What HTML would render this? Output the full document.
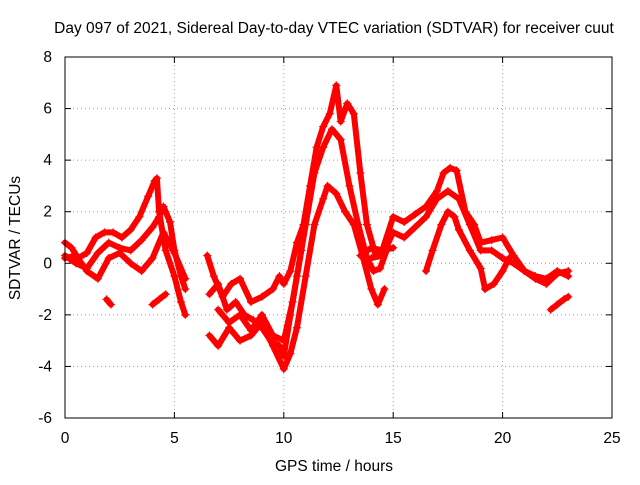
<!DOCTYPE html>
<html><head><meta charset="utf-8"><style>
body{margin:0;background:#fff;}
svg text{font-family:"Liberation Sans",sans-serif;font-size:15.5px;fill:#000;}
</style></head><body>
<svg id="chart" width="640" height="480" xmlns="http://www.w3.org/2000/svg">
<text x="334" y="33" text-anchor="middle">Day 097 of 2021, Sidereal Day-to-day VTEC variation (SDTVAR) for receiver cuut</text>
<text x="334" y="471" text-anchor="middle">GPS time / hours</text>
<text transform="translate(20,238) rotate(-90)" text-anchor="middle">SDTVAR / TECUs</text>
<g id="grid"></g><g id="ticks"></g><g id="marks"></g>
<rect x="65" y="57" width="547" height="361" fill="none" stroke="#000" stroke-width="1"/>
</svg>
<script>
const xTicks=[0,5,10,15,20,25];
const yTicks=[-6,-4,-2,0,2,4,6,8];
const t1x=[0,0.3,0.6,1,1.4,1.8,2.2,2.6,3,3.4,3.8,4.1,4.2,4.3,4.6,5,5.3,5.5];
const t1y=[0.8,0.6,0.2,0.4,1.0,1.2,1.2,1.0,1.3,1.8,2.6,3.2,3.3,2.0,0.5,-0.5,-1.5,-2.0];
const t2x=[0,0.5,1,1.5,2,2.5,3,3.5,4,4.3,4.5,4.8,5,5.3,5.5];
const t2y=[0.3,0,-0.2,0.4,0.8,0.6,0.5,0.9,1.4,1.8,2.2,1.6,0.5,-0.5,-1.0];
const t3x=[0,0.5,1,1.5,2,2.5,3,3.5,4,4.5,5,5.5];
const t3y=[0.2,0.3,-0.3,-0.6,0.2,0.4,0,-0.3,0.2,1.2,0.4,-0.6];
const t4x=[4,4.3,4.6];
const t4y=[-1.6,-1.4,-1.2];
const t5x=[1.9,2.1];
const t5y=[-1.4,-1.6];
const t6x=[6.5,6.8,7.2,7.6,8,8.5,9,9.5,9.8,10,10.3,10.6,10.9,11.2,11.5,11.8,12.1,12.4,12.6,12.9,13.2,13.5,13.8,14.2,14.6];
const t6y=[0.3,-0.5,-1.3,-0.8,-0.6,-1.5,-1.3,-1,-0.5,-0.8,-0.3,0.8,1.5,3.0,4.5,5.3,5.8,6.9,5.5,6.2,5.8,3.5,1.5,0.3,0.5];
const t7x=[6.6,7,7.4,7.8,8.2,8.6,9,9.4,9.8,10,10.3,10.6,11,11.4,11.8,12.2,12.6,13,13.4,13.8,14.1,14.4,14.7];
const t7y=[-1.2,-0.8,-1.8,-1.5,-2,-2.2,-2.5,-3,-3.2,-3.6,-2,-0.5,1.5,3.5,4.5,5.2,4.8,3.0,1.5,0.2,-0.3,-0.2,0.5];
const t8x=[6.6,7,7.5,8,8.5,9,9.5,10,10.3,10.6,11,11.4,11.8,12,12.4,12.8,13.2,13.6,14,14.3,14.6];
const t8y=[-2.8,-3.2,-2.5,-3,-2.8,-2.3,-3.2,-4.1,-3.5,-2.5,-0.5,1.5,2.5,3.0,2.7,2.0,1.5,0.3,-1.0,-1.6,-1];
const t9x=[7,7.5,8,8.5,9,9.5,10,10.4,10.8];
const t9y=[-1.8,-2.3,-2.0,-2.6,-2.0,-2.8,-3.0,-1.5,0.5];
const t10x=[14.5,15,15.5,16,16.5,17,17.3,17.6,17.9,18.3,18.7,19,19.5,20,20.5,21,21.5,22,22.5,23];
const t10y=[0.5,1.8,1.6,1.9,2.2,2.8,3.5,3.7,3.6,2.0,1.5,0.8,0.9,1.0,0.3,-0.3,-0.5,-0.6,-0.3,-0.5];
const t11x=[14,14.5,15,15.5,16,16.5,17,17.5,18,18.5,19,19.5,20,20.5,21,21.5,22,22.5,23];
const t11y=[0.2,0.3,1.2,1.0,1.4,1.8,2.5,2.8,2.5,1.5,0.5,0.5,0.2,0,-0.3,-0.6,-0.8,-0.4,-0.3];
const t12x=[16.5,16.8,17.2,17.5,17.8,18,18.5,19,19.2];
const t12y=[-0.3,0.5,1.5,2.0,1.8,1.3,0.5,-0.2,-1.0];
const t13x=[19.2,19.6,20,20.3];
const t13y=[-1.0,-0.8,-0.3,0.2];
const t14x=[22.2,22.5,22.8,23];
const t14y=[-1.8,-1.6,-1.4,-1.3];
const t15x=[13.5,14,14.5,15];
const t15y=[0.3,0.6,0.5,0.6];
const tracksX=[t1x,t2x,t3x,t4x,t5x,t6x,t7x,t8x,t9x,t10x,t11x,t12x,t13x,t14x,t15x];
const tracksY=[t1y,t2y,t3y,t4y,t5y,t6y,t7y,t8y,t9y,t10y,t11y,t12y,t13y,t14y,t15y];

const NS="http://www.w3.org/2000/svg";
function sx(v){return 65+v*(547/25);}
function sy(v){return 418-(v+6)*(361/14);}
function mk(tag,attrs,parent){const e=document.createElementNS(NS,tag);for(const k in attrs)e.setAttribute(k,attrs[k]);parent.appendChild(e);return e;}
const grid=document.getElementById('grid'),ticks=document.getElementById('ticks'),marks=document.getElementById('marks');
xTicks.forEach(v=>{
  const x=sx(v);
  if(v>0&&v<25){const g=mk('line',{x1:x,x2:x,y1:57,y2:418,stroke:'#a0a0a0','stroke-dasharray':'1,3'},grid);
  
  }
  mk('line',{x1:x,x2:x,y1:418,y2:412,stroke:'#000'},ticks);
  mk('line',{x1:x,x2:x,y1:57,y2:63,stroke:'#000'},ticks);
  const t=mk('text',{x:x,y:443,'text-anchor':'middle'},ticks);t.textContent=v;
  
  
});
yTicks.forEach(v=>{
  const y=sy(v);
  if(v>-6&&v<8){const g=mk('line',{x1:65,x2:612,y1:y,y2:y,stroke:'#a0a0a0','stroke-dasharray':'1,3'},grid);
  
  }
  mk('line',{x1:65,x2:71,y1:y,y2:y,stroke:'#000'},ticks);
  mk('line',{x1:612,x2:606,y1:y,y2:y,stroke:'#000'},ticks);
  const t=mk('text',{x:52,y:y+5,'text-anchor':'end'},ticks);t.textContent=v;
  
  
});
tracksX.forEach((xs,i)=>{
  const ys=tracksY[i];
  const pts=xs.map((x,j)=>sx(x)+','+sy(ys[j])).join(' ');
  const pl=mk('polyline',{points:pts,fill:'none',stroke:'#ff0000','stroke-width':6,'stroke-linejoin':'round','stroke-linecap':'round'},marks);
  
  
  xs.forEach((x,j)=>{
    const px=sx(x),py=sy(ys[j]);
    const p=mk('path',{d:`M${px-4},${py}h8M${px},${py-4}v8`,stroke:'#ff0000','stroke-width':1.2},marks);
    
    
  });
});
</script>
</body></html>
